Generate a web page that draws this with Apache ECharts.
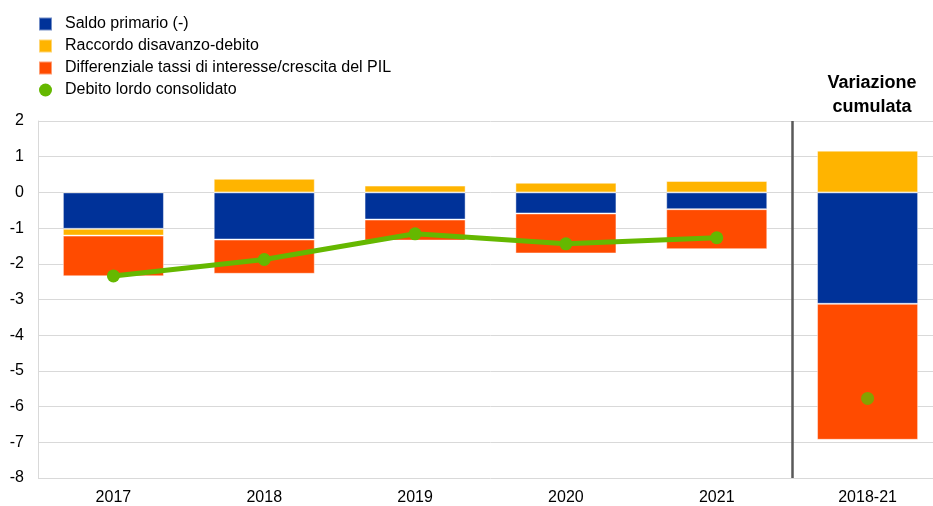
<!DOCTYPE html>
<html>
<head>
<meta charset="utf-8">
<script src="https://cdn.jsdelivr.net/npm/echarts@6/dist/echarts.min.js"></script>
<style>
  html, body { margin: 0; padding: 0; background: #fff; overflow: hidden; }
  #chart { width: 943px; height: 506px; }
</style>
</head>
<body>
<div id="chart"></div>
<script>
const categories = ['2017', '2018', '2019', '2020', '2021', '2018-21']
const saldoPrimario = [-1.02, -1.32, -0.76, -0.59, -0.47, -3.12]
const raccordo = [-0.19, 0.38, 0.19, 0.27, 0.32, 1.17]
const differenziale = [-1.14, -0.96, -0.59, -1.12, -1.12, -3.81]
const debitoAnnuale = [-2.34, -1.88, -1.16, -1.44, -1.27, '-']
const debitoCumulato = ['-', '-', '-', '-', '-', -5.77]
const yTicks = { min: -8, max: 2, step: 1 }

// il grafico originale prosegue oltre il bordo destro: contenitore più largo della finestra
const chart = echarts.init(document.getElementById('chart'))

const barBorder = { borderColor: 'rgba(255,255,255,0.45)', borderWidth: 1 }

const option = {
  animation: false,
  textStyle: { fontFamily: 'Liberation Sans, Arial, sans-serif' },
  title: {
    text: 'Variazione\ncumulata',
    left: 867,
    top: 66,
    textAlign: 'center',
    textStyle: { fontSize: 18, fontWeight: 'bold', color: '#000', lineHeight: 24 }
  },
  legend: {
    orient: 'vertical',
    left: 33,
    top: 11,
    itemWidth: 13,
    itemHeight: 13,
    itemGap: 6,
    textStyle: { fontSize: 16, color: '#000', padding: [0, 0, 0, 8] },
    data: [
      { name: 'Saldo primario (-)', icon: 'rect' },
      { name: 'Raccordo disavanzo-debito', icon: 'rect' },
      { name: 'Differenziale tassi di interesse/crescita del PIL', icon: 'rect' },
      { name: 'Debito lordo consolidato', icon: 'circle' }
    ]
  },
  grid: { left: 38, right: 0, top: 121, bottom: 28 },
  xAxis: [
    {
      type: 'category',
      data: categories,
      axisLine: { show: false, onZero: false },
      axisTick: { show: false },
      axisLabel: { fontSize: 16, color: '#000', margin: 12 }
    },
    { type: 'value', min: 0, max: 6, show: false }
  ],
  yAxis: {
    type: 'value',
    min: yTicks.min,
    max: yTicks.max,
    interval: yTicks.step,
    axisLine: { show: true, lineStyle: { color: '#d9d9d9' } },
    axisTick: { show: false },
    axisLabel: { fontSize: 16, color: '#000', margin: 14 },
    splitLine: { lineStyle: { color: '#d9d9d9', width: 1 } }
  },
  series: [
    {
      name: 'Saldo primario (-)',
      type: 'bar',
      stack: 'tot',
      data: saldoPrimario,
      barWidth: '67%',
      itemStyle: { color: '#003299', ...barBorder }
    },
    {
      name: 'Raccordo disavanzo-debito',
      type: 'bar',
      stack: 'tot',
      data: raccordo,
      itemStyle: { color: '#FFB400', ...barBorder }
    },
    {
      name: 'Differenziale tassi di interesse/crescita del PIL',
      type: 'bar',
      stack: 'tot',
      data: differenziale,
      itemStyle: { color: '#FF4B00', ...barBorder }
    },
    {
      name: 'Debito lordo consolidato',
      type: 'line',
      data: debitoAnnuale,
      symbol: 'circle',
      symbolSize: 13,
      lineStyle: { color: '#65B800', width: 5 },
      itemStyle: { color: '#65B800' }
    },
    {
      name: 'cumulato',
      type: 'scatter',
      data: debitoCumulato,
      symbolSize: 13,
      itemStyle: { color: '#65B800' }
    },
    {
      name: 'separatore',
      type: 'line',
      xAxisIndex: 1,
      data: [],
      markLine: {
        silent: true,
        symbol: 'none',
        label: { show: false },
        lineStyle: { color: '#595959', width: 2.5, type: 'solid' },
        data: [{ xAxis: 5 }]
      }
    }
  ]
}

chart.setOption(option)
</script>
</body>
</html>
